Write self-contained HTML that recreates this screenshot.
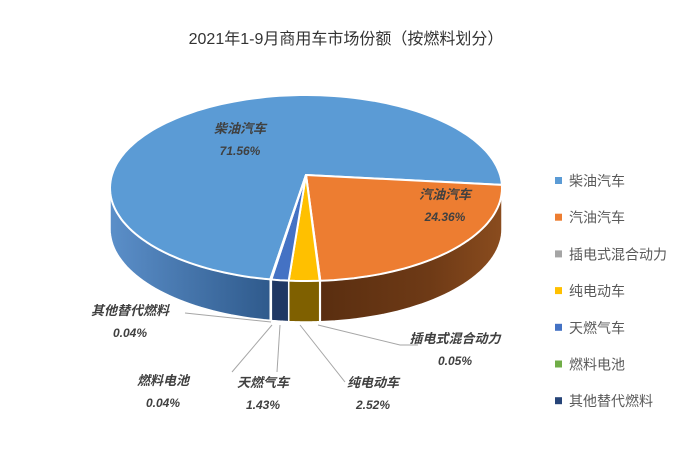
<!DOCTYPE html>
<html><head><meta charset="utf-8"><style>
body{margin:0;background:#fff;}
svg text{font-family:"Liberation Sans","Noto Sans CJK SC",sans-serif;}
</style></head><body>
<svg width="693" height="452" viewBox="0 0 693 452">
<defs>
<linearGradient id="gBlue" x1="0" x2="1" y1="0" y2="0"><stop offset="0" stop-color="#5b8fc9"/><stop offset="1" stop-color="#2f5a8c"/></linearGradient>
<linearGradient id="gBrown" x1="0" x2="1" y1="0" y2="0"><stop offset="0" stop-color="#5a2e10"/><stop offset="0.6" stop-color="#6e3a16"/><stop offset="1" stop-color="#8a4c1e"/></linearGradient>
</defs>
<text x="346" y="44" text-anchor="middle" font-size="16" fill="#333">2021年1-9月商用车市场份额（按燃料划分）</text>
<g id="pie"></g>
<g id="labels"></g>
<g id="legend"></g>
</svg>
<script>
const categories=["柴油汽车","汽油汽车","插电式混合动力","纯电动车","天燃气车","燃料电池","其他替代燃料"];
const values=[71.56,24.36,0.05,2.52,1.43,0.04,0.04];
const colors=["#5b9bd5","#ed7d31","#a5a5a5","#ffc000","#4472c4","#70ad47","#264478"];
const sideColors=["url(#gBlue)","url(#gBrown)","#636363","#7f6000","#203864","#3b5e2b","#1a2e52"];
const NS="http://www.w3.org/2000/svg";
const cx=306,cy=188,rx=196,ry=93,ax=306,ay=175,depth=41,start=190.5;
const pie=document.getElementById('pie');
function pt(t){const r=t*Math.PI/180;return [cx+rx*Math.sin(r),cy-ry*Math.cos(r)];}
const total=values.reduce((a,b)=>a+b,0);
let angles=[];let a=start;
values.forEach(v=>{const s=a;a+=v/total*360;angles.push([s,a]);});
function mk(tag,attrs){const e=document.createElementNS(NS,tag);for(const k in attrs)e.setAttribute(k,attrs[k]);return e;}
// sides
angles.forEach(([s,e],i)=>{
  // front visible range 90..270 (mod 360)
  let segs=[];
  for(let off of [-360,0,360]){const lo=Math.max(s,90+off),hi=Math.min(e,270+off);if(hi>lo)segs.push([lo,hi]);}
  segs.forEach(([lo,hi])=>{
    let d="";const n=40;
    for(let k=0;k<=n;k++){const p=pt(lo+(hi-lo)*k/n);d+=(k?"L":"M")+p[0].toFixed(1)+","+p[1].toFixed(1);}
    for(let k=n;k>=0;k--){const p=pt(lo+(hi-lo)*k/n);d+="L"+p[0].toFixed(1)+","+(p[1]+depth).toFixed(1);}
    const el=mk('path',{d:d+"Z",fill:sideColors[i],stroke:"#fff","stroke-width":"1.5"});
    
    
    pie.appendChild(el);
  });
});
// tops
angles.forEach(([s,e],i)=>{
  let d="M"+ax+","+ay;const n=Math.max(4,Math.ceil((e-s)/2));
  for(let k=0;k<=n;k++){const p=pt(s+(e-s)*k/n);d+="L"+p[0].toFixed(1)+","+p[1].toFixed(1);}
  const el=mk('path',{d:d+"Z",fill:colors[i],stroke:"#fff","stroke-width":"2","stroke-linejoin":"round"});
  
  
  pie.appendChild(el);
});
// labels
const lab=document.getElementById('labels');
const labelPos=[[240,133],[445,199],[455,343],[373,387],[263,387],[163,385],[130,315]];
const leaders=[null,null,[[318,323],[400,345],[420,345]],[[300,323],[340,380]],[279,323,279,375],[[272,323],[230,378]],[[272,320],[185,310]]];
values.forEach((v,i)=>{
  const [x,y]=labelPos[i];
  const t1=mk('text',{x:x,y:y,"text-anchor":"middle","font-size":"13","font-weight":"bold","font-style":"italic",fill:"#404040"});
  t1.textContent=categories[i];
  
  
  lab.appendChild(t1);
  const t2=mk('text',{x:x,y:y+22,"text-anchor":"middle","font-size":"12","font-weight":"bold","font-style":"italic",fill:"#404040"});
  t2.textContent=v.toFixed(2)+"%";
  
  
  lab.appendChild(t2);
});
const lines=[[318,325,400,345,418,345],[300,325,345,382],[280,325,277,372],[272,325,232,372],[271,322,185,313]];
lines.forEach((l,i)=>{
  let d="M"+l[0]+","+l[1];for(let k=2;k<l.length;k+=2)d+="L"+l[k]+","+l[k+1];
  const el=mk('path',{d:d,fill:"none",stroke:"#a6a6a6","stroke-width":"1"});
  
  
  lab.appendChild(el);
});
// legend
const lg=document.getElementById('legend');
categories.forEach((c,i)=>{
  const y=181+i*36.7;
  const g=mk('g',{});
  
  
  g.appendChild(mk('rect',{x:555,y:y-4,width:7,height:7,fill:colors[i]}));
  const t=mk('text',{x:569,y:y+5,"font-size":"14",fill:"#595959"});t.textContent=c;g.appendChild(t);
  lg.appendChild(g);
});
</script>
</body></html>
